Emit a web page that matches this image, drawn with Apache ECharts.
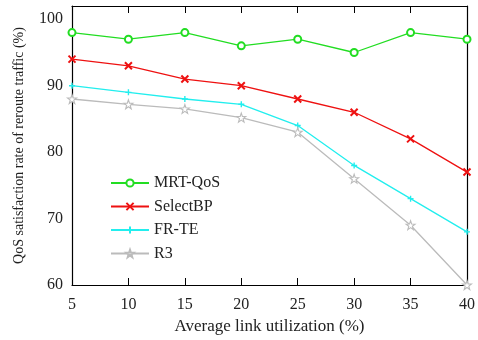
<!DOCTYPE html>
<html>
<head>
<meta charset="utf-8">
<script src="https://cdn.jsdelivr.net/npm/echarts@6/dist/echarts.min.js"></script>
<style>
  html, body { margin: 0; padding: 0; background: #fff; }
  #chart { width: 478px; height: 340px; }
</style>
</head>
<body>
<div id="chart"></div>
<script>
// data
const utilization = ['5', '10', '15', '20', '25', '30', '35', '40'];
const mrtQos = [98, 97, 98, 96, 97, 95, 98, 97];
const selectBP = [94, 93, 91, 90, 88, 86, 82, 77];
const frTe = [90, 89, 88, 87.2, 84, 78, 73, 68];
const r3 = [88, 87.2, 86.5, 85.2, 83, 76, 69, 60];
const yTicks = [60, 70, 80, 90, 100];

const font = 'Liberation Serif';
const STAR = 'path://M10,0 L12.35,6.76 L19.51,6.91 L13.8,11.24 L15.88,18.09 L10,14 L4.12,18.09 L6.2,11.24 L0.49,6.91 L7.65,6.76 Z';
const CROSS = 'path://M0,0 L10,10 M10,0 L0,10';
const PLUS = 'path://M5,0 L5,10 M0,5 L10,5';

const chart = echarts.init(document.getElementById('chart'));

const frameAxis = {
  axisLine: { show: true, onZero: false, lineStyle: { color: '#000', width: 1.2 } },
  splitLine: { show: false }
};

function makeSeries(name, data, color, symbol, size, itemStyle) {
  return {
    name: name,
    type: 'line',
    data: data,
    symbol: symbol,
    symbolSize: size,
    lineStyle: { color: color, width: 1.3 },
    itemStyle: Object.assign({ color: color }, itemStyle || {}),
    emphasis: { disabled: true },
    animation: false
  };
}

chart.setOption({
  backgroundColor: '#fff',
  grid: { left: 72, right: 11, top: 6, bottom: 53 },
  legend: {
    orient: 'vertical',
    left: 105,
    top: 170,
    itemWidth: 38,
    itemHeight: 9,
    itemGap: 7.5,
    textStyle: { fontFamily: font, fontSize: 16, color: '#222' },
    data: ['MRT-QoS', 'SelectBP', 'FR-TE', 'R3']
  },
  xAxis: [{
    type: 'category',
    data: utilization,
    boundaryGap: false,
    name: 'Average link utilization (%)',
    nameLocation: 'middle',
    nameGap: 33,
    nameTextStyle: { fontFamily: font, fontSize: 17, color: '#222' },
    axisLabel: { fontFamily: font, fontSize: 16, color: '#222', margin: 12 },
    axisTick: { inside: true, length: 7, lineStyle: { color: '#000' } },
    ...frameAxis
  }, {
    type: 'category',
    data: utilization,
    boundaryGap: false,
    position: 'top',
    axisLabel: { show: false },
    axisTick: { inside: true, length: 7, lineStyle: { color: '#000' } },
    ...frameAxis
  }],
  yAxis: [{
    type: 'value',
    min: 60,
    max: 102,
    interval: 10,
    name: 'QoS satisfaction rate of reroute traffic (%)',
    nameLocation: 'middle',
    nameGap: 46,
    nameTextStyle: { fontFamily: font, fontSize: 14, color: '#222' },
    axisLabel: {
      fontFamily: font, fontSize: 16, color: '#222', margin: 9,
      formatter: v => (yTicks.indexOf(v) >= 0 ? String(v) : '')
    },
    axisTick: { inside: true, length: 7, lineStyle: { color: '#000' } },
    ...frameAxis
  }, {
    type: 'value',
    min: 60,
    max: 102,
    interval: 10,
    position: 'right',
    axisLabel: { show: false },
    axisTick: { inside: true, length: 7, lineStyle: { color: '#000' } },
    ...frameAxis
  }],
  series: [
    makeSeries('MRT-QoS', mrtQos, '#22dd22', 'emptyCircle', 7, { borderWidth: 1.3 }),
    makeSeries('SelectBP', selectBP, '#ee1111', CROSS, 7, { borderColor: '#ee1111', borderWidth: 2 }),
    makeSeries('FR-TE', frTe, '#22eeee', PLUS, 6, { borderColor: '#22eeee', borderWidth: 1.4 }),
    makeSeries('R3', r3, '#bbbbbb', STAR, 9, { color: '#fff', borderColor: '#bbbbbb', borderWidth: 1.1 })
  ]
});

window.addEventListener('resize', () => chart.resize());
</script>
</body>
</html>
